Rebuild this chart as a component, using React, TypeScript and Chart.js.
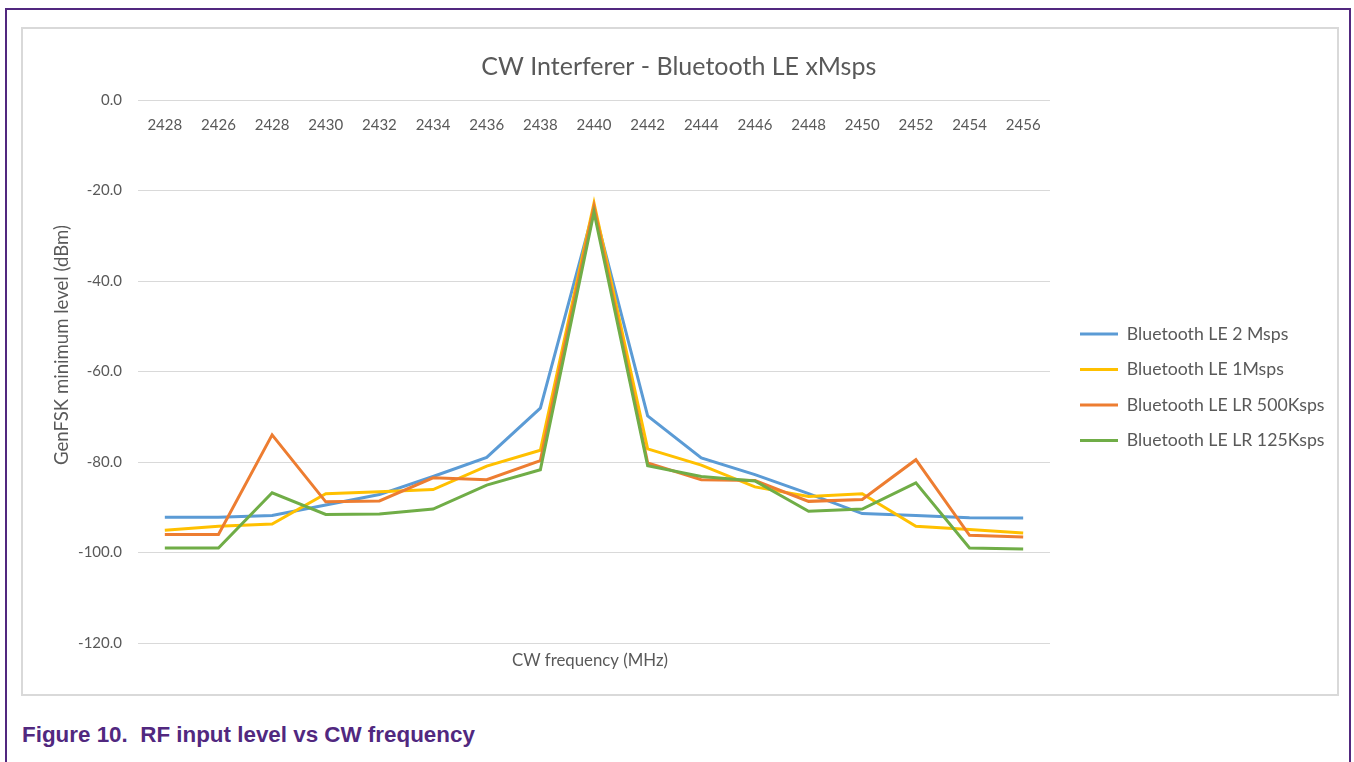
import React, { useEffect, useRef } from 'react';
import { Chart, registerables } from 'chart.js';

Chart.register(...registerables);

const categories = ['2428', '2426', '2428', '2430', '2432', '2434', '2436', '2438', '2440', '2442', '2444', '2446', '2448', '2450', '2452', '2454', '2456'];

const seriesNames = ['Bluetooth LE 2 Msps', 'Bluetooth LE 1Msps', 'Bluetooth LE LR 500Ksps', 'Bluetooth LE LR 125Ksps'];

const le2Msps = [-92.2, -92.2, -91.8, -89.5, -87.2, -83.2, -79.0, -68.1, -24.0, -69.8, -79.1, -82.8, -87.0, -91.4, -91.8, -92.3, -92.4];
const le1Msps = [-95.1, -94.2, -93.7, -87.0, -86.6, -86.1, -80.9, -77.4, -22.8, -77.1, -80.7, -85.5, -87.6, -87.0, -94.2, -94.9, -95.7];
const lr500Ksps = [-96.0, -96.0, -74.0, -88.8, -88.6, -83.5, -83.9, -79.7, -23.5, -80.2, -83.9, -84.1, -88.7, -88.3, -79.5, -96.2, -96.6];
const lr125Ksps = [-99.0, -99.0, -86.8, -91.6, -91.5, -90.4, -85.1, -81.7, -24.8, -80.8, -83.2, -84.2, -90.9, -90.4, -84.6, -99.0, -99.2];

const seriesColors = ['#5B9BD5', '#FFC000', '#ED7D31', '#70AD47'];

const yTicksMin = -120;
const yTicksMax = 0;
const yTickStep = 20;

const chartTitle = 'CW Interferer - Bluetooth LE xMsps';
const xTitle = 'CW frequency (MHz)';
const yTitle = 'GenFSK minimum level (dBm)';

const FONT = 'Lato';
const TEXT = '#595959';
const CW = 1314;
const CH = 665;
const LEGEND_FONT = 17.7;
const LEGEND_PAD = 17.8;
const TICK_FONT = 15;

export default function App() {
  const ref = useRef<HTMLCanvasElement>(null);

  useEffect(() => {
    const canvas = ref.current!;
    const mctx = canvas.getContext('2d')!;
    mctx.font = `normal ${LEGEND_FONT}px ${FONT}`;
    const maxText = Math.max(...seriesNames.map((n) => mctx.measureText(n).width));
    const colWidth = 38 + LEGEND_FONT / 2 + maxText;
    const legendWidth = LEGEND_PAD + colWidth + 10;
    const gap = 12.2;
    const plotRight = 1027;
    const padRight = Math.max(0, CW - (plotRight + gap + legendWidth));

    const axisTitles = {
      id: 'axisTitles',
      afterDraw(chart: any) {
        const { ctx, chartArea } = chart;
        ctx.save();
        ctx.fillStyle = TEXT;
        ctx.textAlign = 'center';
        ctx.textBaseline = 'middle';
        ctx.font = `normal 16.8px ${FONT}`;
        ctx.fillText(xTitle, (chartArea.left + chartArea.right) / 2 - 4, chartArea.bottom + 18);
        ctx.font = `normal 18.6px ${FONT}`;
        ctx.translate(39, 316);
        ctx.rotate(-Math.PI / 2);
        ctx.fillText(yTitle, 0, 0);
        ctx.restore();
      },
    };

    const dataArrays = [le2Msps, le1Msps, lr500Ksps, lr125Ksps];
    const chart = new Chart(canvas, {
      type: 'line',
      data: {
        labels: categories,
        datasets: dataArrays.map((d, i) => ({
          label: seriesNames[i],
          data: d,
          borderColor: seriesColors[i],
          backgroundColor: seriesColors[i],
          borderWidth: 3,
          pointRadius: 0,
          pointHoverRadius: 0,
          tension: 0,
          fill: false,
          order: 4 - i,
          xAxisID: 'x',
          yAxisID: 'y',
        })),
      },
      plugins: [axisTitles],
      options: {
        responsive: false,
        animation: false,
        devicePixelRatio: 1,
        layout: { padding: { left: 0, top: 0, right: padRight, bottom: 19.5 } },
        font: { family: FONT },
        color: TEXT,
        plugins: {
          title: {
            display: true,
            text: chartTitle,
            color: TEXT,
            font: { family: FONT, size: 25, weight: 'normal', lineHeight: 1.2 },
            padding: { top: 23, bottom: 18 },
          },
          legend: {
            display: true,
            position: 'right',
            align: 'center',
            maxWidth: 500,
            title: {
              display: true,
              text: ' ',
              color: 'rgba(0,0,0,0)',
              font: { family: FONT, size: 10, lineHeight: 1.2 },
              padding: { top: 59, bottom: 0 },
            },
            labels: {
              color: TEXT,
              font: { family: FONT, size: LEGEND_FONT },
              padding: LEGEND_PAD,
              usePointStyle: true,
              pointStyle: 'line',
              pointStyleWidth: 38,
              boxHeight: LEGEND_FONT,
              sort: (a: any, b: any) => a.datasetIndex - b.datasetIndex,
            },
          },
          tooltip: { enabled: false },
        },
        scales: {
          x: {
            type: 'category',
            position: { y: 0 } as any,
            offset: true,
            grid: { display: false },
            border: { display: false },
            ticks: {
              color: TEXT,
              font: { family: FONT, size: TICK_FONT },
              padding: 8.3,
              autoSkip: false,
              maxRotation: 0,
              minRotation: 0,
            },
          },
          xb: {
            type: 'category',
            position: 'bottom',
            display: true,
            grid: { display: false },
            border: { display: false },
            ticks: { display: false },
            afterFit: (s: any) => {
              s.height = 31.5;
            },
          },
          y: {
            type: 'linear',
            position: 'left',
            min: yTicksMin,
            max: yTicksMax,
            grid: { color: '#D9D9D9', lineWidth: 1, drawTicks: false },
            border: { display: false },
            ticks: {
              stepSize: yTickStep,
              color: TEXT,
              font: { family: FONT, size: TICK_FONT },
              padding: 16,
              callback: (v: any) => Number(v).toFixed(1),
            },
            afterFit: (s: any) => {
              s.width = 115;
            },
          },
          yr: {
            type: 'linear',
            position: 'right',
            display: true,
            grid: { display: false },
            border: { display: false },
            ticks: { display: false },
            afterFit: (s: any) => {
              s.width = gap;
            },
          },
        },
      },
    } as any);
    return () => chart.destroy();
  }, []);

  return (
    <div style={{ position: 'absolute', left: 0, top: 0, width: 1354, height: 762, overflow: 'hidden', background: '#fff' }}>
      <div
        style={{
          position: 'absolute',
          left: 5,
          top: 8,
          width: 1346,
          height: 800,
          borderLeft: '2px solid #51287f',
          borderTop: '2px solid #51287f',
          borderRight: '2px solid #51287f',
          boxSizing: 'border-box',
        }}
      />
      <div
        style={{
          position: 'absolute',
          left: 21,
          top: 27,
          width: 1318,
          height: 669,
          border: '2px solid #D9D9D9',
          boxSizing: 'border-box',
        }}
      />
      <canvas ref={ref} width={CW} height={CH} style={{ position: 'absolute', left: 23, top: 29, width: CW, height: CH }} />
      <div
        style={{
          position: 'absolute',
          left: 22,
          top: 722,
          fontFamily: '"Liberation Sans", Arial, sans-serif',
          fontWeight: 'bold',
          fontSize: 22.4,
          color: '#51287f',
          whiteSpace: 'pre',
          lineHeight: '26px',
        }}
      >
        {'Figure 10.  RF input level vs CW frequency'}
      </div>
    </div>
  );
}
